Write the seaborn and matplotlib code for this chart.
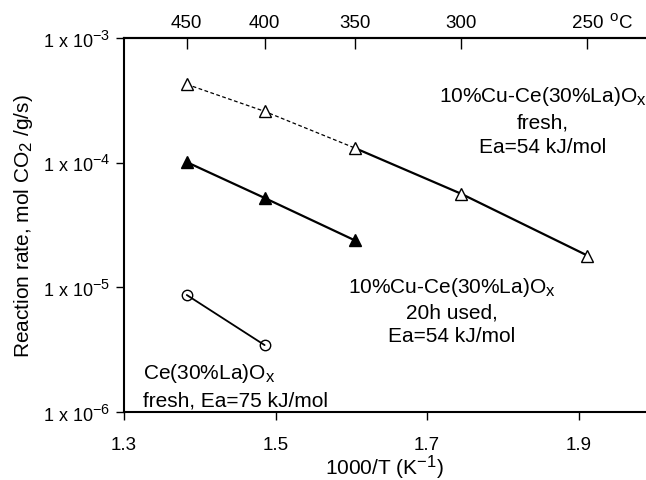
import numpy as np
import pandas as pd
import matplotlib
matplotlib.use("Agg")
import matplotlib.pyplot as plt
import seaborn as sns

try:
    import matplotlib._mathtext as _mt
    _mt.SHRINK_FACTOR = 0.8
except Exception:
    pass

# --- data ---
temps_c = [450, 400, 350, 300, 250]                       # top axis ticks (°C)
fresh_cu_temps = [450, 400, 350, 300, 250]
fresh_cu_rate = [4.25e-4, 2.58e-4, 1.31e-4, 5.64e-5, 1.80e-5]
used_cu_temps = [450, 400, 350]
used_cu_rate = [1.01e-4, 5.21e-5, 2.38e-5]
ce_la_temps = [450, 400]
ce_la_rate = [8.68e-6, 3.44e-6]
x_ticks = [1.3, 1.5, 1.7, 1.9]
y_ticks = [1e-6, 1e-5, 1e-4, 1e-3]
y_ticklabels = ["1 x 10$^{\\mathregular{-6}}$", "1 x 10$^{\\mathregular{-5}}$",
                "1 x 10$^{\\mathregular{-4}}$", "1 x 10$^{\\mathregular{-3}}$"]


def inv_t(tc):
    return [1000.0 / (t + 273.15) for t in tc]


sns.set_style("ticks")
plt.rcParams["font.family"] = ["Liberation Sans", "DejaVu Sans"]
plt.rcParams["mathtext.fontset"] = "custom"
plt.rcParams["mathtext.rm"] = "Liberation Sans"
plt.rcParams["mathtext.it"] = "Liberation Sans"
for k in ["text.color", "axes.labelcolor", "xtick.color", "ytick.color",
          "axes.edgecolor"]:
    plt.rcParams[k] = "black"

TICK_FS = 13.5
FS = 15

fig = plt.figure(figsize=(6.46, 4.81), dpi=100)
ax = fig.add_axes([0.192, 0.1414, 0.808, 0.7775])

df_fresh = pd.DataFrame({"x": inv_t(fresh_cu_temps), "y": fresh_cu_rate})
df_used = pd.DataFrame({"x": inv_t(used_cu_temps), "y": used_cu_rate})
df_ce = pd.DataFrame({"x": inv_t(ce_la_temps), "y": ce_la_rate})

# fresh Cu: dashed for first three, solid for last three
sns.lineplot(data=df_fresh.iloc[:3], x="x", y="y", ax=ax, color="black",
             lw=0.9, linestyle=(0, (3, 2)), sort=False, zorder=2)
sns.lineplot(data=df_fresh.iloc[2:], x="x", y="y", ax=ax, color="black",
             lw=1.6, sort=False, zorder=2)
sns.lineplot(data=df_used, x="x", y="y", ax=ax, color="black", lw=1.6,
             sort=False, zorder=2)
sns.lineplot(data=df_ce, x="x", y="y", ax=ax, color="black", lw=1.3,
             sort=False, zorder=2)

ax.plot(df_fresh["x"], df_fresh["y"], linestyle="none", marker="^", ms=8,
        mfc="white", mec="black", mew=1.0, zorder=3)
ax.plot(df_used["x"], df_used["y"], linestyle="none", marker="^", ms=8,
        mfc="black", mec="black", mew=1.0, zorder=3)
ax.plot(df_ce["x"], df_ce["y"], linestyle="none", marker="o", ms=7.5,
        mfc="none", mec="black", mew=1.0, zorder=3)

ax.set_yscale("log")
ax.set_xlim(1.3, 1.989)
ax.set_ylim(1e-6, 1e-3)
ax.set_xticks(x_ticks)
ax.set_xticklabels([f"{v:.1f}" for v in x_ticks], fontsize=TICK_FS)
ax.set_yticks(y_ticks)
ax.set_yticklabels(y_ticklabels, fontsize=13)
ax.yaxis.set_minor_locator(matplotlib.ticker.NullLocator())
ax.tick_params(axis="both", direction="out", length=6, width=1.0, color="black")
ax.tick_params(axis="x", pad=11)
ax.tick_params(axis="y", pad=4)

for s in ["left", "bottom", "top"]:
    ax.spines[s].set_linewidth(1.5)
    ax.spines[s].set_color("black")
ax.spines["right"].set_visible(False)

ax.set_xlabel("1000/T (K$^{\\mathregular{-1}}$)", fontsize=FS, labelpad=0)
ax.set_ylabel("Reaction rate, mol CO$_{\\mathregular{2}}$ /g/s)", fontsize=FS,
              labelpad=6)

# top axis in °C
top = ax.twiny()
top.set_xlim(ax.get_xlim())
top.set_xticks(inv_t(temps_c))
top.set_xticklabels([str(t) for t in temps_c], fontsize=TICK_FS)
top.tick_params(axis="x", direction="in", length=8, width=1.0, pad=5)
for s in ["left", "bottom", "right"]:
    top.spines[s].set_visible(False)
top.spines["top"].set_linewidth(1.5)
fig.text(609 / 646, 1 - 22 / 481, "$^{\\mathregular{o}}$C", fontsize=TICK_FS,
         ha="left", va="center")

# annotations
ax.text(1.853, 2.2e-4, "10%Cu-Ce(30%La)O$_{\\mathregular{x}}$\nfresh,\nEa=54 kJ/mol",
        fontsize=FS, ha="center", va="center", linespacing=1.35)
ax.text(1.733, 6.6e-6, "10%Cu-Ce(30%La)O$_{\\mathregular{x}}$\n20h used,\nEa=54 kJ/mol",
        fontsize=FS, ha="center", va="center", linespacing=1.3)
ax.text(1.325, 1.65e-6, "Ce(30%La)O$_{\\mathregular{x}}$\nfresh, Ea=75 kJ/mol",
        fontsize=FS, ha="left", va="center", linespacing=1.45)

fig.savefig("out.png", dpi=100)
